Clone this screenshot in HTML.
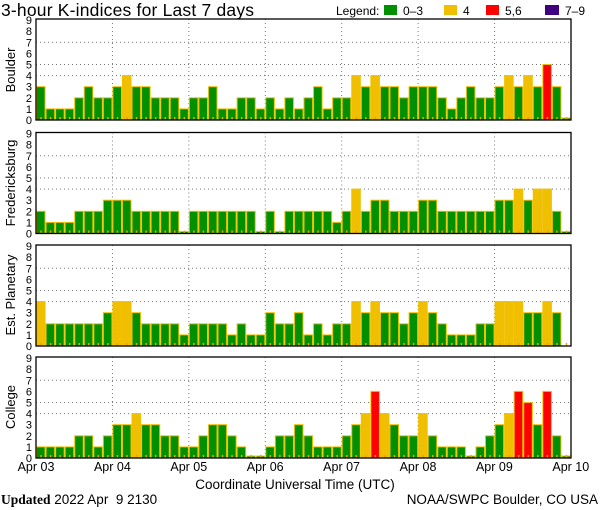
<!DOCTYPE html>
<html><head><meta charset="utf-8"><style>
html,body{margin:0;padding:0;background:#fff;}
svg{display:block;font-family:"Liberation Sans",sans-serif;}
</style></head><body>
<svg id="s" width="600" height="510" viewBox="0 0 600 510" xmlns="http://www.w3.org/2000/svg">
<text x="1" y="16" font-size="17.5" fill="#000" textLength="253">3-hour K-indices for Last 7 days</text>
<text x="336" y="15" font-size="12" fill="#000">Legend:</text>
<rect x="384" y="5" width="13" height="10" fill="#009000"/>
<text x="403" y="15" font-size="12">0–3</text>
<rect x="444" y="5" width="13" height="10" fill="#f0c000"/>
<text x="463" y="15" font-size="12">4</text>
<rect x="486" y="5" width="13" height="10" fill="#ff0000"/>
<text x="505" y="15" font-size="12">5,6</text>
<rect x="545" y="5" width="14" height="10" fill="#400080"/>
<text x="565" y="15" font-size="12">7–9</text>

<text transform="translate(15,70) rotate(-90)" font-size="13" text-anchor="middle">Boulder</text>
<text transform="translate(15,183) rotate(-90)" font-size="13" text-anchor="middle">Fredericksburg</text>
<text transform="translate(15,295) rotate(-90)" font-size="13" text-anchor="middle">Est. Planetary</text>
<text transform="translate(15,407) rotate(-90)" font-size="13" text-anchor="middle">College</text>

<g font-size="12.5" text-anchor="middle">
<text x="36" y="471">Apr 03</text><text x="112.4" y="471">Apr 04</text><text x="188.8" y="471">Apr 05</text><text x="265.2" y="471">Apr 06</text><text x="341.6" y="471">Apr 07</text><text x="418" y="471">Apr 08</text><text x="494.4" y="471">Apr 09</text><text x="570.8" y="471">Apr 10</text>
</g>
<text x="295" y="489" font-size="13.5" text-anchor="middle">Coordinate Universal Time (UTC)</text>
<text x="1" y="504" font-size="13.5"><tspan font-family="Liberation Serif,serif" font-weight="bold">Updated</tspan> 2022 Apr &#160;9 2130</text>
<text x="598" y="504" font-size="13.5" text-anchor="end">NOAA/SWPC Boulder, CO USA</text>
<g id="g"></g>
</svg>
<script>
var D=[
[3,1,1,1,2,3,2,2,3,4,3,3,2,2,2,1,2,2,3,1,1,2,2,1,2,1,2,1,2,3,1,2,2,4,3,4,3,3,2,3,3,3,2,1,2,3,2,2,3,4,3,4,3,5,3,0],
[2,1,1,1,2,2,2,3,3,3,2,2,2,2,2,0,2,2,2,2,2,2,2,0,2,0,2,2,2,2,2,1,2,4,2,3,3,2,2,2,3,3,2,2,2,2,2,2,3,3,4,3,4,4,2,0],
[4,2,2,2,2,2,2,3,4,4,3,2,2,2,2,1,2,2,2,2,1,2,1,1,3,2,2,3,1,2,1,2,2,4,3,4,3,3,2,3,4,3,2,1,1,1,2,2,4,4,4,3,3,4,3,-1],
[1,1,1,1,2,2,1,2,3,3,4,3,3,2,2,1,1,2,3,3,2,1,0,0,1,2,2,3,2,1,1,1,2,3,4,6,4,3,2,2,4,2,1,1,1,0,1,2,3,4,6,5,3,6,2,0]];
var B=[120,233.5,346,458],x0=36,x1=571,bw=(x1-x0)/56,u=11.1,h='';
for(var p=0;p<4;p++){var b=B[p],t=b-101;
 for(var k=0;k<=9;k++){h+='<text x="32" y="'+(b-k*u+4)+'" font-size="11" text-anchor="end">'+k+'</text>';}
 [4,5,7].forEach(function(k){h+='<line x1="'+x0+'" x2="'+x1+'" y1="'+(b-k*u)+'" y2="'+(b-k*u)+'" stroke="#777" stroke-dasharray="1,3"/>';});
 for(var d=1;d<7;d++){var x=x0+d*bw*8;h+='<line x1="'+x+'" x2="'+x+'" y1="'+t+'" y2="'+b+'" stroke="#777" stroke-dasharray="1,3"/>';}
 for(var i=0;i<56;i++){var v=D[p][i],x=x0+i*bw;
  if(v>=0){var hh=Math.max(v*u,2),c=v<=3?'#009000':v==4?'#f0c000':v<=6?'#ff0000':'#400080';
   h+='<rect x="'+(x+0.5)+'" y="'+(b-hh)+'" width="'+(bw-1)+'" height="'+hh+'" fill="'+c+'" stroke="#f0c000" stroke-width="1"/>';}
  h+='<rect x="'+(x+bw/2-0.5)+'" y="'+(b-3)+'" width="1.5" height="3" fill="#f0a000"/>';}
 h+='<rect x="'+x0+'" y="'+t+'" width="'+(x1-x0)+'" height="101" fill="none" stroke="#000" stroke-width="1.3"/>';
}
document.getElementById('g').innerHTML=h;
</script>
</body></html>
